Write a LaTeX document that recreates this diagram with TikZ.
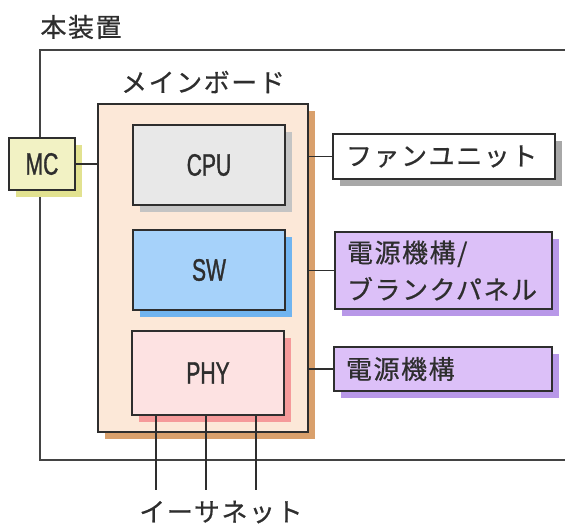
\documentclass[tikz,border=0pt]{standalone}
\usepackage{fontspec}
\usetikzlibrary{shadows}
\newfontfamily\jp[LetterSpace=6,FakeBold=0.6]{Noto Sans CJK JP}
\newfontfamily\cond[FakeStretch=0.68,FakeBold=1]{Liberation Sans}
\definecolor{edge}{HTML}{2E2E2E}
\definecolor{mbfill}{HTML}{FCE8D8}
\definecolor{mbshadow}{HTML}{D9A06C}
\definecolor{mcfill}{HTML}{F2F2C4}
\definecolor{mcshadow}{HTML}{E2E290}
\definecolor{cpufill}{HTML}{E8E8E8}
\definecolor{cpushadow}{HTML}{C4C4C4}
\definecolor{swfill}{HTML}{A6D2FA}
\definecolor{swshadow}{HTML}{70B4F0}
\definecolor{phyfill}{HTML}{FDE2E2}
\definecolor{physhadow}{HTML}{F59A9A}
\definecolor{fanshadow}{HTML}{A8A8A8}
\definecolor{psfill}{HTML}{DCC0F8}
\definecolor{psshadow}{HTML}{B898E8}
\tikzset{
  blk/.style 2 args={draw=edge, line width=1.8pt, fill=#1, anchor=north west,
    inner sep=0pt, outer sep=0pt,
    general shadow={fill=#2, shadow xshift=7pt, shadow yshift=-7pt}},
  lbl/.style={font=\cond\fontsize{31}{31}\selectfont, text=edge},
  jtxt/.style={font=\jp\fontsize{26}{37}\selectfont, text=edge},
  side/.style={jtxt, align=left, inner xsep=12pt},
  wire/.style={draw=edge, line width=1.6pt},
}
\begin{document}
\begin{tikzpicture}[x=1pt,y=-1pt]
\useasboundingbox (0,0) rectangle (565,527);
% outer device frame (clipped on the right)
\coordinate (otr) at (565,50);
\coordinate (otl) at (40,50);
\coordinate (obl) at (40,460);
\coordinate (obr) at (565,460);
\draw[draw=edge!90, line width=1.4pt] (otr) -- (otl) -- (obl) -- (obr);
\node[jtxt, anchor=center] (title) at (81,27) {本装置};

% main board
\node[blk={mbfill}{mbshadow}, minimum width=210pt, minimum height=328pt] (mb) at (98,104) {};
\node[jtxt, anchor=center] (mbt) at (203,82) {メインボード};

% MC
\node[blk={mcfill}{mcshadow}, lbl, minimum width=66pt, minimum height=52pt] (mc) at (9,138) {MC};

% chips
\node[blk={cpufill}{cpushadow}, lbl, minimum width=152pt, minimum height=80pt] (cpu) at (133,125) {CPU};
\node[blk={swfill}{swshadow}, lbl, minimum width=152pt, minimum height=80pt] (sw) at (133,230) {SW};
\node[blk={phyfill}{physhadow}, lbl, minimum width=152pt, minimum height=84pt] (phy) at (132,331) {PHY};

% side units
\node[blk={white}{fanshadow}, side, text width=196pt, minimum height=45pt, inner xsep=13pt] (fan) at (333,134) {ファンユニット};
\node[blk={psfill}{psshadow}, side, text width=193pt, minimum height=77pt] (psb) at (335,232) {電源機構/\\ブランクパネル};
\node[blk={psfill}{psshadow}, side, text width=194pt, minimum height=44pt] (ps) at (334,347) {電源機構};

% connectors
\draw[wire] (mc.east) -- (mc.east -| mb.west);
\draw[wire] (fan.west) -- (fan.west -| mb.east);
\draw[wire] (psb.west) -- (psb.west -| mb.east);
\draw[wire] (ps.west) -- (ps.west -| mb.east);

% ethernet
\coordinate (e1) at (156,490);
\coordinate (e2) at (206,490);
\coordinate (e3) at (256,490);
\draw[wire] (e1 |- phy.south) -- (e1);
\draw[wire] (e2 |- phy.south) -- (e2);
\draw[wire] (e3 |- phy.south) -- (e3);
\node[jtxt, anchor=center] (eth) at (221,512) {イーサネット};
\end{tikzpicture}
\end{document}
